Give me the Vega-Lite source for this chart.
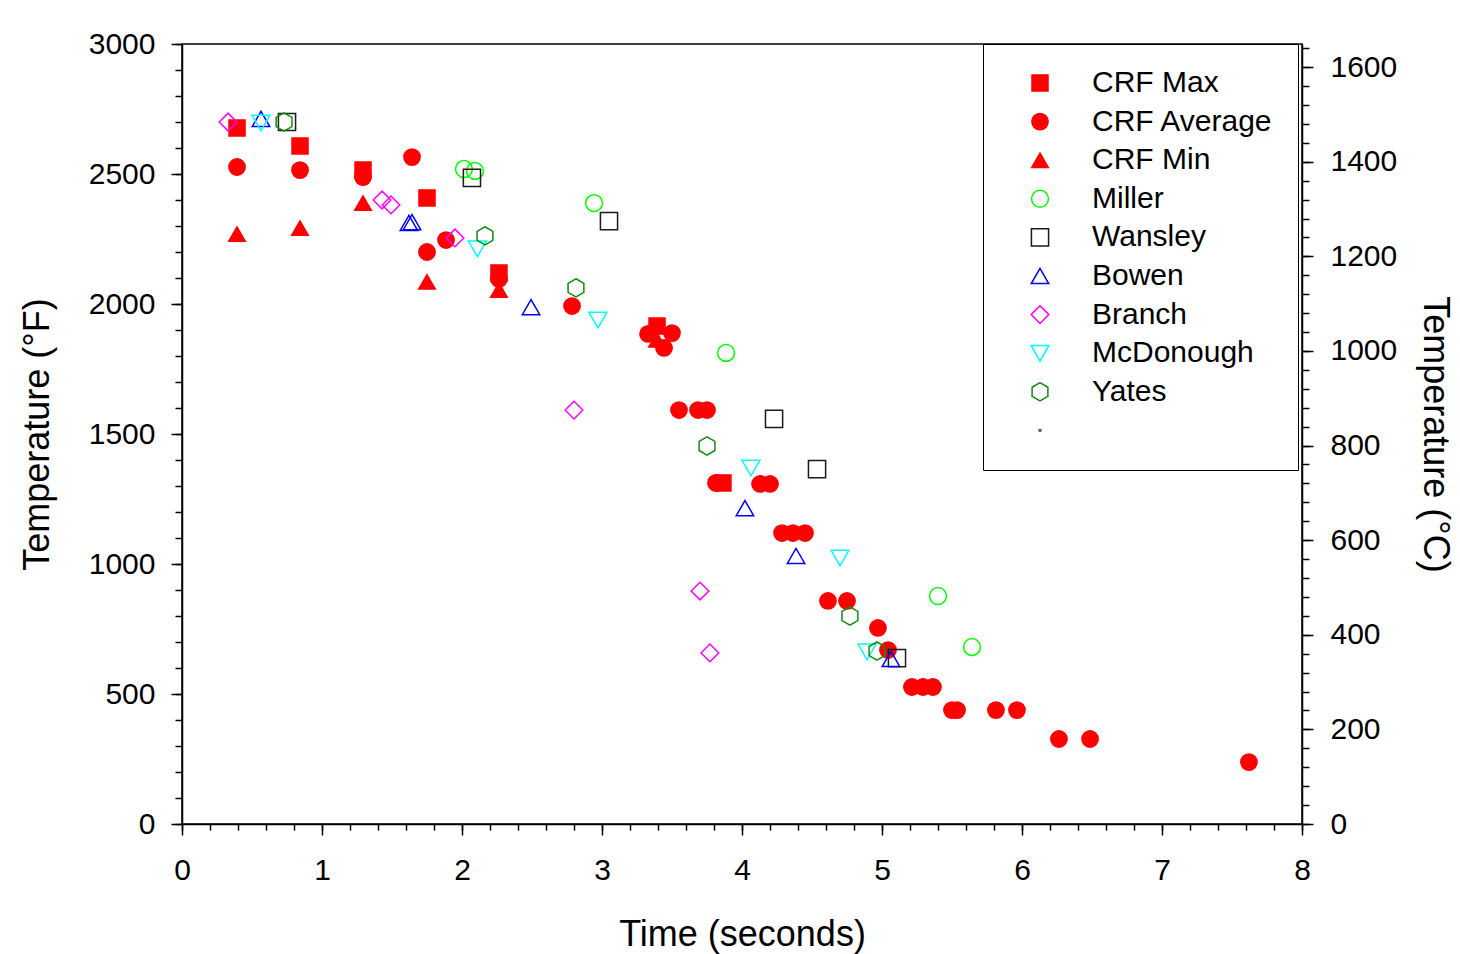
{
  "$schema": "https://vega.github.io/schema/vega-lite/v6.json",
  "width": 1120,
  "height": 780,
  "autosize": {"type": "none"},
  "padding": {"left": 182, "top": 44, "right": 158, "bottom": 130},
  "background": "white",
  "config": {
    "font": "Liberation Sans",
    "view": {"stroke": "black", "strokeWidth": 1.5},
    "axis": {
      "grid": false,
      "domainColor": "black",
      "domainWidth": 1.5,
      "tickColor": "black",
      "tickWidth": 1.5,
      "labelColor": "black",
      "labelFont": "Liberation Sans",
      "labelFontSize": 30,
      "labelFlush": false,
      "labelOverlap": false,
      "titleColor": "black",
      "titleFont": "Liberation Sans",
      "titleFontSize": 36,
      "titleFontWeight": "normal"
    }
  },
  "resolve": {"scale": {"x": "independent", "y": "independent"}},
  "layer": [
    {
      "data": {
        "values": [
          {"s": "CRF Max", "t": 0.393, "f": 2677},
          {"s": "CRF Max", "t": 0.843, "f": 2608},
          {"s": "CRF Max", "t": 1.293, "f": 2515},
          {"s": "CRF Max", "t": 1.75, "f": 2408},
          {"s": "CRF Max", "t": 2.264, "f": 2119},
          {"s": "CRF Max", "t": 3.393, "f": 1915},
          {"s": "CRF Max", "t": 3.864, "f": 1312},
          {"s": "CRF Min", "t": 0.393, "f": 2269},
          {"s": "CRF Min", "t": 0.843, "f": 2292},
          {"s": "CRF Min", "t": 1.293, "f": 2388},
          {"s": "CRF Min", "t": 1.75, "f": 2085},
          {"s": "CRF Min", "t": 2.264, "f": 2054},
          {"s": "CRF Min", "t": 3.393, "f": 1862},
          {"s": "CRF Average", "t": 0.393, "f": 2527},
          {"s": "CRF Average", "t": 0.843, "f": 2515},
          {"s": "CRF Average", "t": 1.293, "f": 2488},
          {"s": "CRF Average", "t": 1.643, "f": 2565},
          {"s": "CRF Average", "t": 1.75, "f": 2200},
          {"s": "CRF Average", "t": 1.886, "f": 2246},
          {"s": "CRF Average", "t": 2.264, "f": 2096},
          {"s": "CRF Average", "t": 2.786, "f": 1992},
          {"s": "CRF Average", "t": 3.329, "f": 1885},
          {"s": "CRF Average", "t": 3.5, "f": 1888},
          {"s": "CRF Average", "t": 3.443, "f": 1831},
          {"s": "CRF Average", "t": 3.55, "f": 1592},
          {"s": "CRF Average", "t": 3.686, "f": 1592},
          {"s": "CRF Average", "t": 3.75, "f": 1592},
          {"s": "CRF Average", "t": 3.814, "f": 1312},
          {"s": "CRF Average", "t": 4.129, "f": 1308},
          {"s": "CRF Average", "t": 4.2, "f": 1308},
          {"s": "CRF Average", "t": 4.286, "f": 1119},
          {"s": "CRF Average", "t": 4.364, "f": 1119},
          {"s": "CRF Average", "t": 4.45, "f": 1119},
          {"s": "CRF Average", "t": 4.614, "f": 858},
          {"s": "CRF Average", "t": 4.75, "f": 858},
          {"s": "CRF Average", "t": 4.971, "f": 754},
          {"s": "CRF Average", "t": 5.043, "f": 669},
          {"s": "CRF Average", "t": 5.214, "f": 527},
          {"s": "CRF Average", "t": 5.293, "f": 527},
          {"s": "CRF Average", "t": 5.364, "f": 527},
          {"s": "CRF Average", "t": 5.5, "f": 438},
          {"s": "CRF Average", "t": 5.536, "f": 438},
          {"s": "CRF Average", "t": 5.814, "f": 438},
          {"s": "CRF Average", "t": 5.964, "f": 438},
          {"s": "CRF Average", "t": 6.264, "f": 327},
          {"s": "CRF Average", "t": 6.486, "f": 327},
          {"s": "CRF Average", "t": 7.621, "f": 238},
          {"s": "Miller", "t": 2.014, "f": 2519},
          {"s": "Miller", "t": 2.093, "f": 2512},
          {"s": "Miller", "t": 2.943, "f": 2388},
          {"s": "Miller", "t": 3.886, "f": 1812},
          {"s": "Miller", "t": 5.4, "f": 877},
          {"s": "Miller", "t": 5.643, "f": 681},
          {"s": "Wansley", "t": 0.75, "f": 2700},
          {"s": "Wansley", "t": 2.071, "f": 2485},
          {"s": "Wansley", "t": 3.05, "f": 2319},
          {"s": "Wansley", "t": 4.229, "f": 1558},
          {"s": "Wansley", "t": 4.536, "f": 1365},
          {"s": "Wansley", "t": 5.107, "f": 638},
          {"s": "Bowen", "t": 0.564, "f": 2712},
          {"s": "Bowen", "t": 1.621, "f": 2312},
          {"s": "Bowen", "t": 1.643, "f": 2315},
          {"s": "Bowen", "t": 2.493, "f": 1988},
          {"s": "Bowen", "t": 4.021, "f": 1215},
          {"s": "Bowen", "t": 4.386, "f": 1031},
          {"s": "Bowen", "t": 5.064, "f": 635},
          {"s": "Branch", "t": 0.329, "f": 2700},
          {"s": "Branch", "t": 1.429, "f": 2400},
          {"s": "Branch", "t": 1.493, "f": 2381},
          {"s": "Branch", "t": 1.95, "f": 2254},
          {"s": "Branch", "t": 2.8, "f": 1592},
          {"s": "Branch", "t": 3.7, "f": 896},
          {"s": "Branch", "t": 3.771, "f": 658},
          {"s": "McDonough", "t": 0.564, "f": 2696},
          {"s": "McDonough", "t": 2.11, "f": 2212},
          {"s": "McDonough", "t": 2.971, "f": 1938},
          {"s": "McDonough", "t": 4.064, "f": 1369},
          {"s": "McDonough", "t": 4.7, "f": 1023},
          {"s": "McDonough", "t": 4.893, "f": 662},
          {"s": "Yates", "t": 0.729, "f": 2700},
          {"s": "Yates", "t": 2.164, "f": 2262},
          {"s": "Yates", "t": 2.814, "f": 2062},
          {"s": "Yates", "t": 3.75, "f": 1454},
          {"s": "Yates", "t": 4.771, "f": 800},
          {"s": "Yates", "t": 4.964, "f": 665}
        ]
      },
      "mark": {"type": "point", "opacity": 1, "strokeWidth": 1.5},
      "encoding": {
        "x": {
          "field": "t",
          "type": "quantitative",
          "scale": {"domain": [0, 8], "nice": false, "zero": false},
          "axis": {
            "orient": "bottom",
            "values": [0, 1, 2, 3, 4, 5, 6, 7, 8],
            "format": "d",
            "tickSize": 11,
            "labelPadding": 20,
            "title": "Time (seconds)",
            "titlePadding": 32
          }
        },
        "y": {
          "field": "f",
          "type": "quantitative",
          "scale": {"domain": [0, 3000], "nice": false},
          "axis": {
            "orient": "left",
            "values": [0, 500, 1000, 1500, 2000, 2500, 3000],
            "format": "d",
            "tickSize": 11,
            "labelPadding": 16,
            "title": "Temperature (°F)",
            "titlePadding": 32
          }
        },
        "shape": {
          "field": "s",
          "type": "nominal",
          "scale": {
            "domain": ["CRF Max", "CRF Average", "CRF Min", "Miller", "Wansley", "Bowen", "Branch", "McDonough", "Yates", " "],
            "range": ["square", "circle", "triangle-up", "circle", "square", "triangle-up", "diamond", "triangle-down", "M0,-1L0.866,-0.5L0.866,0.5L0,1L-0.866,0.5L-0.866,-0.5Z", "M-0.08,-0.08L0.08,-0.08L0.08,0.08L-0.08,0.08Z"]
          },
          "legend": {
            "orient": "none",
            "legendX": 801,
            "legendY": 0,
            "title": null,
            "labelFont": "Liberation Sans",
            "labelFontSize": 30,
            "labelColor": "black",
            "labelLimit": 400,
            "strokeColor": "black",
            "fillColor": "white",
            "padding": 24,
            "rowPadding": 8.6,
            "labelOffset": 37,
            "symbolOffset": 18,
            "symbolStrokeWidth": 1.5,
            "symbolOpacity": 1
          }
        },
        "fill": {
          "field": "s",
          "type": "nominal",
          "scale": {
            "domain": ["CRF Max", "CRF Average", "CRF Min", "Miller", "Wansley", "Bowen", "Branch", "McDonough", "Yates", " "],
            "range": ["#ff0000", "#ff0000", "#ff0000", "transparent", "transparent", "transparent", "transparent", "transparent", "transparent", "#555555"]
          }
        },
        "stroke": {
          "field": "s",
          "type": "nominal",
          "scale": {
            "domain": ["CRF Max", "CRF Average", "CRF Min", "Miller", "Wansley", "Bowen", "Branch", "McDonough", "Yates", " "],
            "range": ["#ff0000", "#ff0000", "#ff0000", "#00ff00", "#1a1a1a", "#0000ff", "#ff00ff", "#00ffff", "#138a13", "#555555"]
          }
        },
        "size": {
          "field": "s",
          "type": "nominal",
          "scale": {
            "domain": ["CRF Max", "CRF Average", "CRF Min", "Miller", "Wansley", "Bowen", "Branch", "McDonough", "Yates", " "],
            "range": [256, 342, 342, 335, 250, 335, 462, 361, 342, 342]
          }
        }
      }
    },
    {
      "data": {"values": [{}]},
      "mark": {"type": "rule", "opacity": 0},
      "encoding": {
        "y": {
          "datum": 0,
          "type": "quantitative",
          "scale": {"domain": [0, 3000], "nice": false},
          "axis": {
            "orient": "left",
            "values": [0, 100, 200, 300, 400, 500, 600, 700, 800, 900, 1000, 1100, 1200, 1300, 1400, 1500, 1600, 1700, 1800, 1900, 2000, 2100, 2200, 2300, 2400, 2500, 2600, 2700, 2800, 2900, 3000],
            "tickSize": 7,
            "labels": false,
            "domain": false,
            "title": null
          }
        }
      }
    },
    {
      "data": {"values": [{}]},
      "mark": {"type": "rule", "opacity": 0},
      "encoding": {
        "y": {
          "datum": 0,
          "type": "quantitative",
          "scale": {"domain": [0, 1648.9], "nice": false},
          "axis": {
            "orient": "right",
            "values": [0, 200, 400, 600, 800, 1000, 1200, 1400, 1600],
            "format": "d",
            "tickSize": 11,
            "labelPadding": 17,
            "title": "Temperature (°C)",
            "titleAngle": 90,
            "titlePadding": 19
          }
        }
      }
    },
    {
      "data": {"values": [{}]},
      "mark": {"type": "rule", "opacity": 0},
      "encoding": {
        "y": {
          "datum": 0,
          "type": "quantitative",
          "scale": {"domain": [0, 1648.9], "nice": false},
          "axis": {
            "orient": "right",
            "values": [0, 40, 80, 120, 160, 200, 240, 280, 320, 360, 400, 440, 480, 520, 560, 600, 640, 680, 720, 760, 800, 840, 880, 920, 960, 1000, 1040, 1080, 1120, 1160, 1200, 1240, 1280, 1320, 1360, 1400, 1440, 1480, 1520, 1560, 1600, 1640],
            "tickSize": 7,
            "labels": false,
            "domain": false,
            "title": null
          }
        }
      }
    },
    {
      "data": {"values": [{}]},
      "mark": {"type": "rule", "opacity": 0},
      "encoding": {
        "x": {
          "datum": 0,
          "type": "quantitative",
          "scale": {"domain": [0, 8], "nice": false, "zero": false},
          "axis": {
            "orient": "bottom",
            "values": [0, 0.2, 0.4, 0.6, 0.8, 1, 1.2, 1.4, 1.6, 1.8, 2, 2.2, 2.4, 2.6, 2.8, 3, 3.2, 3.4, 3.6, 3.8, 4, 4.2, 4.4, 4.6, 4.8, 5, 5.2, 5.4, 5.6, 5.8, 6, 6.2, 6.4, 6.6, 6.8, 7, 7.2, 7.4, 7.6, 7.8, 8],
            "tickSize": 6,
            "labels": false,
            "domain": false,
            "title": null
          }
        }
      }
    }
  ]
}
